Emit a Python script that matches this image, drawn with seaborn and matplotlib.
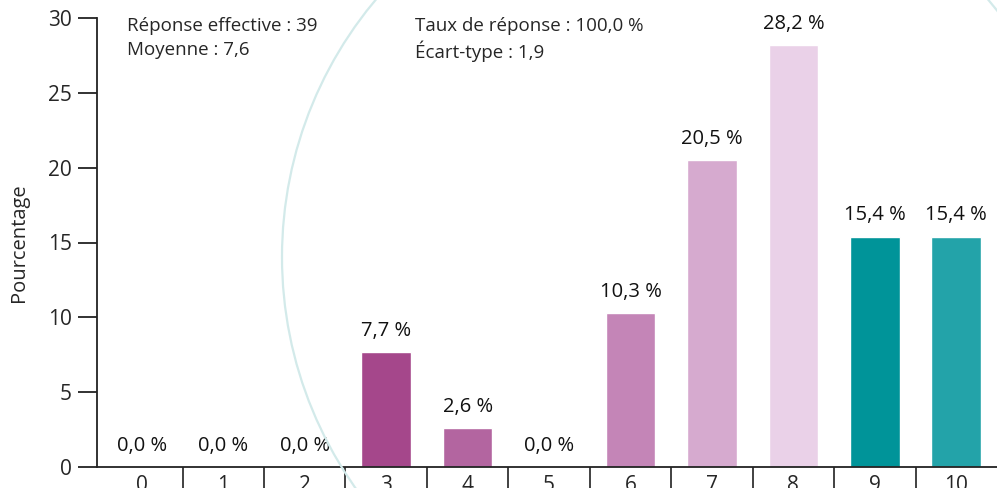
import numpy as np
import pandas as pd
import seaborn as sns
import matplotlib.pyplot as plt
from matplotlib.patches import Ellipse

# data
notes = ['0', '1', '2', '3', '4', '5', '6', '7', '8', '9', '10']
pourcentage = [0.0, 0.0, 0.0, 7.7, 2.6, 0.0, 10.3, 20.5, 28.2, 15.4, 15.4]
couleurs = ['#7A2E66', '#8C3677', '#983E81', '#A5478B', '#B365A0', '#BB74AB',
            '#C485B7', '#D6AACF', '#EAD1E8', '#009499', '#23A3A9']
stats_gauche = ['Réponse effective : 39', 'Moyenne : 7,6']
stats_droite = ['Taux de réponse : 100,0 %', 'Écart-type : 1,9']

df = pd.DataFrame({'note': notes, 'pct': pourcentage})

sns.set_style('white')
plt.rcParams['font.family'] = ['Open Sans', 'DejaVu Sans']

fig = plt.figure(figsize=(9.97, 4.88), dpi=100)

# decorative pale circle behind the chart
circ = Ellipse((682 / 997, 231 / 488), 800 / 997, 800 / 488, transform=fig.transFigure,
               fill=False, edgecolor='#D3EAEA', lw=1.6, zorder=0)
fig.patches.append(circ)

ax = fig.add_axes([97 / 997, 21 / 488, 900 / 997, 449 / 488])
ax.set_facecolor('none')

sns.barplot(data=df, x='note', y='pct', hue='note', palette=couleurs, legend=False,
            width=0.61, saturation=1, ax=ax)

for cont in ax.containers:
    ax.bar_label(cont, labels=[f'{v:.1f} %'.replace('.', ',') for v in cont.datavalues],
                 padding=8, fontsize=14.5, color='#111111')

ax.set_ylim(0, 30)
ax.set_xlim(-0.55, 10.5)
ax.set_yticks([0, 5, 10, 15, 20, 25, 30])
ax.set_xticks(np.arange(0.5, 10), minor=True)
ax.tick_params(axis='y', left=True, length=14, width=1.3, pad=4, labelsize=15, color='#222222')
ax.tick_params(axis='x', which='major', bottom=True, length=0, pad=6, labelsize=15)
ax.tick_params(axis='x', which='minor', bottom=True, length=30, width=1.3, color='#333333')
ax.set_xlabel('')
ax.set_ylabel('Pourcentage', fontsize=14.5)
ax.yaxis.set_label_coords(-0.076, 0.5)

sns.despine(ax=ax)
for s in ['left', 'bottom']:
    ax.spines[s].set_linewidth(1.3)
    ax.spines[s].set_color('#222222')

for i, t in enumerate(stats_gauche):
    fig.text(127 / 997, (488 - 17 - 24 * i) / 488, t, fontsize=13.5, va='top', ha='left')
for i, t in enumerate(stats_droite):
    fig.text(415 / 997, (488 - 17 - 24 * i) / 488, t, fontsize=13.5, va='top', ha='left')

fig.savefig('out.png', dpi=100)
